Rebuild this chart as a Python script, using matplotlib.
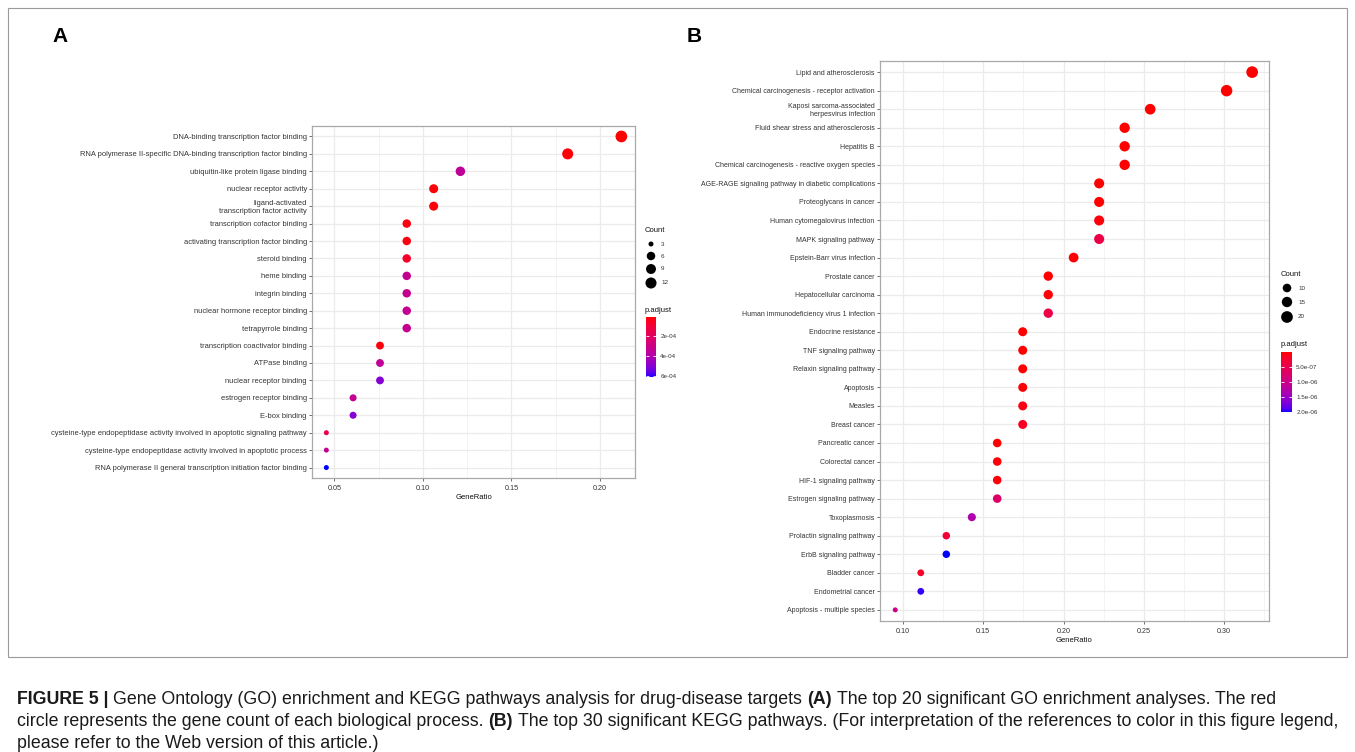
import numpy as np
import matplotlib
matplotlib.use("Agg")
import matplotlib.pyplot as plt
from matplotlib.colors import ListedColormap, Normalize
from matplotlib.cm import ScalarMappable
from matplotlib.patches import Rectangle

plt.rcParams['font.family'] = ['Liberation Sans', 'DejaVu Sans']

# ---------------- data ----------------
go_terms = [
    "DNA-binding transcription factor binding",
    "RNA polymerase II-specific DNA-binding transcription factor binding",
    "ubiquitin-like protein ligase binding",
    "nuclear receptor activity",
    "ligand-activated\ntranscription factor activity",
    "transcription cofactor binding",
    "activating transcription factor binding",
    "steroid binding",
    "heme binding",
    "integrin binding",
    "nuclear hormone receptor binding",
    "tetrapyrrole binding",
    "transcription coactivator binding",
    "ATPase binding",
    "nuclear receptor binding",
    "estrogen receptor binding",
    "E-box binding",
    "cysteine-type endopeptidase activity involved in apoptotic signaling pathway",
    "cysteine-type endopeptidase activity involved in apoptotic process",
    "RNA polymerase II general transcription initiation factor binding",
]
go_ratio = [0.2121, 0.1818, 0.1212, 0.1061, 0.1061, 0.0909, 0.0909, 0.0909, 0.0909, 0.0909,
            0.0909, 0.0909, 0.0758, 0.0758, 0.0758, 0.0606, 0.0606, 0.0455, 0.0455, 0.0455]
go_count = [14, 12, 8, 7, 7, 6, 6, 6, 6, 6, 6, 6, 5, 5, 5, 4, 4, 3, 3, 3]
go_padj = [3.2e-6, 1.1e-5, 3.5e-4, 1.2e-5, 1.2e-5, 2.4e-5, 2.4e-5, 6.5e-5, 3.3e-4, 3.3e-4,
           3.3e-4, 3.3e-4, 1.5e-5, 3.4e-4, 5.0e-4, 3.3e-4, 5.0e-4, 1.5e-4, 3.3e-4, 6.1e-4]
go_xticks = [0.05, 0.10, 0.15, 0.20]
go_xticklabels = ["0.05", "0.10", "0.15", "0.20"]
go_count_legend = [3, 6, 9, 12]
go_cbar_ticks = [2e-4, 4e-4, 6e-4]
go_cbar_labels = ["2e-04", "4e-04", "6e-04"]

kegg_terms = [
    "Lipid and atherosclerosis",
    "Chemical carcinogenesis - receptor activation",
    "Kaposi sarcoma-associated\nherpesvirus infection",
    "Fluid shear stress and atherosclerosis",
    "Hepatitis B",
    "Chemical carcinogenesis - reactive oxygen species",
    "AGE-RAGE signaling pathway in diabetic complications",
    "Proteoglycans in cancer",
    "Human cytomegalovirus infection",
    "MAPK signaling pathway",
    "Epstein-Barr virus infection",
    "Prostate cancer",
    "Hepatocellular carcinoma",
    "Human immunodeficiency virus 1 infection",
    "Endocrine resistance",
    "TNF signaling pathway",
    "Relaxin signaling pathway",
    "Apoptosis",
    "Measles",
    "Breast cancer",
    "Pancreatic cancer",
    "Colorectal cancer",
    "HIF-1 signaling pathway",
    "Estrogen signaling pathway",
    "Toxoplasmosis",
    "Prolactin signaling pathway",
    "ErbB signaling pathway",
    "Bladder cancer",
    "Endometrial cancer",
    "Apoptosis - multiple species",
]
kegg_ratio = [0.3175, 0.3016, 0.2540, 0.2381, 0.2381, 0.2381, 0.2222, 0.2222, 0.2222, 0.2222,
              0.2063, 0.1905, 0.1905, 0.1905, 0.1746, 0.1746, 0.1746, 0.1746, 0.1746, 0.1746,
              0.1587, 0.1587, 0.1587, 0.1587, 0.1429, 0.1270, 0.1270, 0.1111, 0.1111, 0.0952]
kegg_count = [20, 19, 16, 15, 15, 15, 14, 14, 14, 14, 13, 12, 12, 12, 11, 11, 11, 11, 11, 11,
              10, 10, 10, 10, 9, 8, 8, 7, 7, 6]
kegg_padj = [1.2e-10, 2.0e-9, 3.1e-9, 1.5e-9, 1.8e-9, 4.5e-9, 6.0e-10, 5.0e-9, 4.0e-8, 4.4e-7,
             2.0e-8, 1.0e-8, 2.0e-8, 4.2e-7, 1.0e-9, 3.0e-9, 1.3e-8, 1.5e-8, 6.0e-8, 1.6e-7,
             1.0e-8, 2.0e-8, 3.0e-8, 7.0e-7, 1.3e-6, 2.8e-7, 2.0e-6, 2.0e-7, 1.95e-6, 1.0e-6]
kegg_xticks = [0.10, 0.15, 0.20, 0.25, 0.30]
kegg_xticklabels = ["0.10", "0.15", "0.20", "0.25", "0.30"]
kegg_count_legend = [10, 15, 20]
kegg_cbar_ticks = [5e-7, 1e-6, 1.5e-6, 2e-6]
kegg_cbar_labels = ["5.0e-07", "1.0e-06", "1.5e-06", "2.0e-06"]

caption_lines = [
    [("FIGURE 5 |", True),
     ("Gene Ontology (GO) enrichment and KEGG pathways analysis for drug-disease targets", False),
     ("(A)", True),
     ("The top 20 significant GO enrichment analyses. The red", False)],
    [("circle represents the gene count of each biological process.", False),
     ("(B)", True),
     ("The top 30 significant KEGG pathways. (For interpretation of the references to color in this figure legend,", False)],
    [("please refer to the Web version of this article.)", False)],
]

# ---------------- colormap: red -> blue interpolated in Lab ----------------
_M = np.array([[0.4124, 0.3576, 0.1805], [0.2126, 0.7152, 0.0722], [0.0193, 0.1192, 0.9505]])
_W = np.array([0.95047, 1.0, 1.08883])


def _to_lab(rgb):
    c = np.asarray(rgb, float)
    lin = np.where(c <= 0.04045, c / 12.92, ((c + 0.055) / 1.055) ** 2.4)
    xyz = _M @ lin / _W
    f = np.where(xyz > 0.008856, np.cbrt(xyz), 7.787 * xyz + 16 / 116)
    return np.array([116 * f[1] - 16, 500 * (f[0] - f[1]), 200 * (f[1] - f[2])])


def _from_lab(lab):
    L, a, b = lab
    fy = (L + 16) / 116
    f = np.array([fy + a / 500, fy, fy - b / 200])
    xyz = np.where(f ** 3 > 0.008856, f ** 3, (f - 16 / 116) / 7.787) * _W
    lin = np.linalg.inv(_M) @ xyz
    lin = np.clip(lin, 0, 1)
    s = np.where(lin <= 0.0031308, 12.92 * lin, 1.055 * lin ** (1 / 2.4) - 0.055)
    return np.clip(s, 0, 1)


_lr, _lb = _to_lab([1, 0, 0]), _to_lab([0, 0, 1])
cmap = ListedColormap([_from_lab(_lr + (_lb - _lr) * t) for t in np.linspace(0, 1, 256)])

# ---------------- figure ----------------
W, H = 1355, 752
DPI = 100
fig = plt.figure(figsize=(W / DPI, H / DPI), dpi=DPI)
fig.patch.set_facecolor('white')

ov = fig.add_axes([0, 0, 1, 1])
ov.set_xlim(0, W)
ov.set_ylim(H, 0)
ov.axis('off')
ov.add_patch(Rectangle((8, 8), 1339, 649, fill=False, ec='#9a9a9a', lw=0.8))

TXT = '#333333'


def diam_px(c, cmin, cmax, dmin=5.0, dmax=11.7):
    return dmin + (dmax - dmin) * np.sqrt((np.asarray(c, float) - cmin) / (cmax - cmin))


def s_from_px(d):
    return (np.asarray(d) * 72.0 / DPI) ** 2


def px_axes(l, t, r, b):
    return fig.add_axes([l / W, 1 - b / H, (r - l) / W, (b - t) / H])


def dot_panel(ax, terms, ratio, count, padj, xlim, xticks, xticklabels, ylab_fs):
    n = len(terms)
    y = np.arange(n)[::-1]
    norm = Normalize(vmin=min(padj), vmax=max(padj))
    cmin, cmax = min(count), max(count)
    ax.scatter(ratio, y, s=s_from_px(diam_px(count, cmin, cmax)), c=padj, cmap=cmap,
               norm=norm, linewidths=0, zorder=3)
    ax.set_yticks(y)
    ax.set_yticklabels(terms, fontsize=ylab_fs, color=TXT, multialignment='right')
    ax.set_xticks(xticks)
    ax.set_xticklabels(xticklabels, fontsize=5.2, color=TXT)
    minors = [(xticks[i] + xticks[i + 1]) / 2 for i in range(len(xticks) - 1)]
    minors = [xticks[0] - 0.025] + minors + [xticks[-1] + 0.025]
    ax.set_xticks(minors, minor=True)
    ax.set_xlim(*xlim)
    ax.set_ylim(-0.6, n - 0.4)
    ax.tick_params(axis='x', which='minor', length=0)
    ax.tick_params(which='major', length=2.2, width=0.5, color=TXT, pad=1.5)
    ax.tick_params(axis='x', which='major', pad=2.5)
    ax.grid(True, which='major', color='#ebebeb', lw=0.9)
    ax.grid(True, which='minor', axis='x', color='#f3f3f3', lw=0.6)
    ax.set_axisbelow(True)
    for sp in ax.spines.values():
        sp.set_color('#a9a9a9')
        sp.set_linewidth(0.9)
    ax.set_xlabel("GeneRatio", fontsize=5.5, color='#111111', labelpad=1.5)
    return norm, cmin, cmax


def legend(x0, count_title_y, count_vals, count_ys, cmin, cmax, padj_title_y,
           cb_box, norm, cb_ticks, cb_labels, label_dx):
    ov.text(x0, count_title_y, "Count", fontsize=5.5, color='#111111', va='center', ha='left')
    dx = x0 + 6
    ov.scatter([dx] * len(count_vals), count_ys,
               s=s_from_px(diam_px(count_vals, cmin, cmax)), c='black', linewidths=0)
    for v, yy in zip(count_vals, count_ys):
        ov.text(dx + label_dx, yy, str(v), fontsize=4.5, color=TXT, va='center', ha='left')
    ov.text(x0, padj_title_y, "p.adjust", fontsize=5.5, color='#111111', va='center', ha='left')
    cax = px_axes(*cb_box)
    sm = ScalarMappable(norm=norm, cmap=cmap)
    cb = fig.colorbar(sm, cax=cax)
    cb.outline.set_visible(False)
    cb.set_ticks(cb_ticks)
    cb.set_ticklabels(cb_labels)
    cax.invert_yaxis()
    cax.tick_params(direction='in', color='white', length=2, width=0.6, left=True, right=True,
                    labelleft=False, labelright=True, labelsize=4.5, labelcolor=TXT, pad=3)


# Panel A
axA = px_axes(312, 126, 635, 478)
normA, cminA, cmaxA = dot_panel(axA, go_terms, go_ratio, go_count, go_padj,
                                (0.0374, 0.2198), go_xticks, go_xticklabels, 5.4)
legend(645, 231, go_count_legend, [244, 256, 269, 283], cminA, cmaxA, 311,
       (646, 317, 656, 377), normA, go_cbar_ticks, go_cbar_labels, 10)

# Panel B
axB = px_axes(880, 61, 1269, 621)
normB, cminB, cmaxB = dot_panel(axB, kegg_terms, kegg_ratio, kegg_count, kegg_padj,
                                (0.0857, 0.3280), kegg_xticks, kegg_xticklabels, 5.0)
legend(1281, 275, kegg_count_legend, [288, 302, 317], cminB, cmaxB, 344,
       (1281, 352, 1292, 412), normB, kegg_cbar_ticks, kegg_cbar_labels, 11)

# Panel letters
ov.text(52, 37, "A", fontsize=15, fontweight='bold', va='center', ha='left', color='black')
ov.text(687, 36, "B", fontsize=15, fontweight='bold', va='center', ha='left', color='black')

# Caption with mixed bold
r = fig.canvas.get_renderer()
CAP_FS = 12.8
tmp1 = fig.text(0, 0, "x x", fontsize=CAP_FS)
tmp2 = fig.text(0, 0, "xx", fontsize=CAP_FS)
space_w = tmp1.get_window_extent(r).width - tmp2.get_window_extent(r).width
tmp1.remove()
tmp2.remove()
line_ys = [699, 722, 744]
for segs, ly in zip(caption_lines, line_ys):
    x = 17
    for txt, bold in segs:
        t = fig.text(x / W, 1 - ly / H, txt, fontsize=CAP_FS,
                     fontweight='bold' if bold else 'normal', va='center', ha='left',
                     color='#1a1a1a')
        x += t.get_window_extent(r).width + space_w

fig.savefig("out.png", dpi=DPI, facecolor='white')
